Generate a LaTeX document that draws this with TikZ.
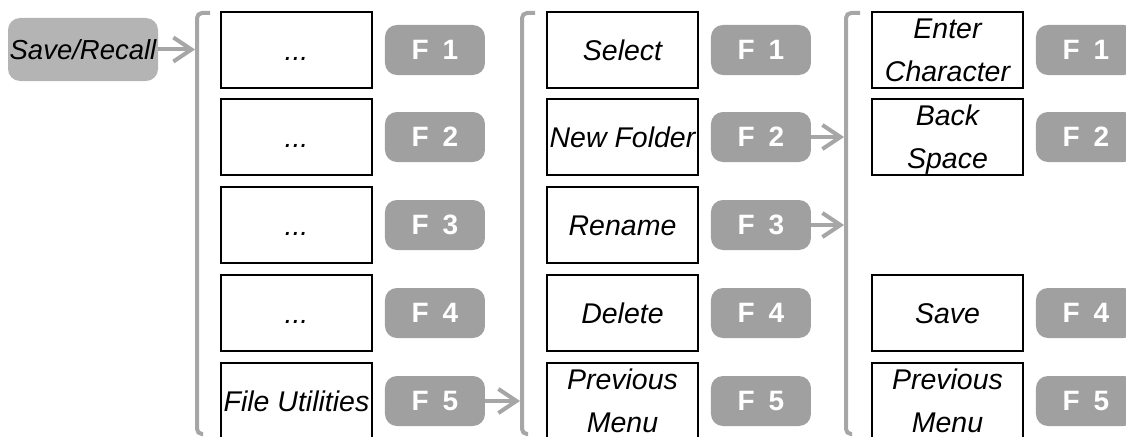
\documentclass[tikz,border=0pt]{standalone}
\usepackage{fontspec}
\setmainfont{Liberation Sans}
\usepackage{tikz}
\usetikzlibrary{arrows.meta,positioning}
\definecolor{keygray}{RGB}{160,160,160}
\definecolor{menugray}{RGB}{180,180,180}
\definecolor{linegray}{RGB}{166,166,166}
\tikzset{
  menubox/.style={draw=black,line width=1.5pt,minimum width=151pt,minimum height=76pt,inner sep=0pt,
    font=\fontsize{28.5}{43}\selectfont\itshape,text height=20pt,text depth=0pt},
  menubox2/.style={draw=black,line width=1.5pt,minimum width=151pt,minimum height=76pt,inner sep=0pt,
    font=\fontsize{28.5}{43}\selectfont\itshape,align=center,text depth=0pt},
  fkey/.style={fill=keygray,rounded corners=12pt,minimum width=100pt,minimum height=50pt,inner sep=0pt,
    text=white,font=\fontsize{28}{30}\selectfont\bfseries,right=12pt of #1},
  savekey/.style={fill=menugray,rounded corners=12pt,minimum width=150pt,minimum height=63pt,inner sep=0pt,
    font=\fontsize{27.5}{32}\selectfont\itshape},
  bracketline/.style={draw=linegray,line width=4pt,rounded corners=5pt},
  navarrow/.style={draw=linegray,line width=4pt,-{Straight Barb[length=18pt,width=24pt]}}
}
\newcommand{\fname}[1]{F\hspace{14pt}#1}

\begin{document}
\begin{tikzpicture}[x=1pt,y=-1pt]
      \useasboundingbox (0,0) rectangle (1126,436);
      \clip (0,0) rectangle (1126,436);
      % Save/Recall key
      \node[savekey] (save) at (83,49.5) {Save/Recall};
      % First bracket
      \draw[bracketline] (210,13) -- (197,13) -- (197,434) -- (203,434);
      \coordinate (in1) at (195,49.5);
      \draw[navarrow] (save) -- (in1);
      % First column
      \node[menubox] (dotsA) at (296.5,50) {...};
      \node[menubox] (dotsB) at (296.5,137) {...};
      \node[menubox] (dotsC) at (296.5,225) {...};
      \node[menubox] (dotsD) at (296.5,313) {...};
      \node[menubox] (util) at (296.5,401) {File Utilities};
      \node[fkey=dotsA] (keyA1) {\fname{1}};
      \node[fkey=dotsB] (keyA2) {\fname{2}};
      \node[fkey=dotsC] (keyA3) {\fname{3}};
      \node[fkey=dotsD] (keyA4) {\fname{4}};
      \node[fkey=util] (keyA5) {\fname{5}};
      % Second bracket
      \draw[bracketline] (535,13) -- (522,13) -- (522,434) -- (528,434);
      \coordinate (in2) at (520,401);
      \draw[navarrow] (keyA5) -- (in2);
      % Second column
      \node[menubox] (select) at (622.5,50) {Select};
      \node[menubox] (newfolder) at (622.5,137) {New Folder};
      \node[menubox] (rename) at (622.5,225) {Rename};
      \node[menubox] (delete) at (622.5,313) {Delete};
      \node[menubox2] (prevB) at (622.5,401) {Previous\\Menu};
      \node[fkey=select] (keyB1) {\fname{1}};
      \node[fkey=newfolder] (keyB2) {\fname{2}};
      \node[fkey=rename] (keyB3) {\fname{3}};
      \node[fkey=delete] (keyB4) {\fname{4}};
      \node[fkey=prevB] (keyB5) {\fname{5}};
      % Third bracket
      \draw[bracketline] (860,13) -- (846,13) -- (846,434) -- (852,434);
      \coordinate (in3a) at (844,137);
      \coordinate (in3b) at (844,225);
      \draw[navarrow] (keyB2) -- (in3a);
      \draw[navarrow] (keyB3) -- (in3b);
      % Third column
      \node[menubox2] (enter) at (947.5,50) {Enter\\Character};
      \node[menubox2] (back) at (947.5,137) {Back\\Space};
      \node[menubox] (savefile) at (947.5,313) {Save};
      \node[menubox2] (prevC) at (947.5,401) {Previous\\Menu};
      \node[fkey=enter] (keyC1) {\fname{1}};
      \node[fkey=back] (keyC2) {\fname{2}};
      \node[fkey=savefile] (keyC4) {\fname{4}};
      \node[fkey=prevC] (keyC5) {\fname{5}};
\end{tikzpicture}
\end{document}
